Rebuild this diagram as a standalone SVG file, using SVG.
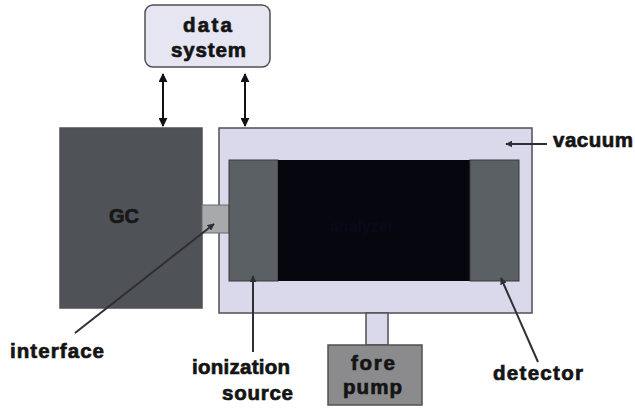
<svg xmlns="http://www.w3.org/2000/svg" width="635" height="411" viewBox="0 0 635 411">
<defs>
<style>
.lbl{font-family:"Liberation Sans",Arial,sans-serif;font-weight:bold;fill:#141414;stroke:#141414;stroke-width:0.7;font-size:20.5px;}
.box{stroke:#505050;stroke-width:1.5;}
.ptr{stroke:#2e2e36;stroke-width:2;fill:none;}
.dbl{stroke:#111;stroke-width:2;fill:none;}
</style>
<marker id="ah" viewBox="0 0 10 10" refX="9" refY="5" markerWidth="4.5" markerHeight="4.5" orient="auto-start-reverse" markerUnits="strokeWidth">
<path d="M0,0 L10,5 L0,10 Z" fill="#111"/>
</marker>
<marker id="ph" viewBox="0 0 10 10" refX="9" refY="5" markerWidth="3.5" markerHeight="3.5" orient="auto" markerUnits="strokeWidth">
<path d="M0,0 L10,5 L0,10 Z" fill="#2e2e36"/>
</marker>
</defs>
<rect width="635" height="411" fill="#ffffff"/>

<g id="data-system">
<rect class="box" x="145" y="5" width="125" height="62" rx="8" fill="#e6e6f2"/>
<text class="lbl" x="207.5" y="32" text-anchor="middle" textLength="49">data</text>
<text class="lbl" x="208.5" y="57" text-anchor="middle" textLength="75">system</text>
</g>

<g id="gc">
<rect class="box" x="60" y="128" width="142" height="180" fill="#4f5357"/>
<text class="lbl" x="124" y="223" style="font-size:20px;fill:#181818;stroke:#181818" text-anchor="middle">GC</text>
</g>

<g id="vacuum">
<rect class="box" x="219" y="128" width="313" height="185" fill="#d9d9eb"/>
</g>

<g id="interface">
<rect x="202" y="205" width="27" height="28" fill="#a7a9ab" stroke="#6a6a6a" stroke-width="1"/>
</g>

<g id="ionization-source">
<rect x="229" y="160" width="49" height="121" fill="#5a6064" stroke="#3a3a3a" stroke-width="1"/>
</g>

<g id="analyzer">
<rect x="278" y="160" width="192" height="121" fill="#06060f"/>
<text x="362" y="232" font-family="Liberation Sans, Arial, sans-serif" font-weight="bold" font-size="16" text-anchor="middle" fill="#09091a">analyzer</text>
</g>

<g id="detector">
<rect x="470" y="160" width="49" height="121" fill="#5a6064" stroke="#3a3a3a" stroke-width="1"/>
</g>

<g id="fore-pump">
<rect x="366" y="313" width="22" height="32" fill="#d9d9eb" stroke="#505050" stroke-width="1.5"/>
<rect class="box" x="328" y="345" width="94" height="60" fill="#8b8b8e"/>
<text class="lbl" x="373" y="370" text-anchor="middle" textLength="44">fore</text>
<text class="lbl" x="372.5" y="394" text-anchor="middle" textLength="59">pump</text>
</g>

<g id="labels">
<text class="lbl" x="10" y="358" textLength="94">interface</text>
<text class="lbl" x="192" y="374" textLength="98">ionization</text>
<text class="lbl" x="222" y="400" textLength="71">source</text>
<text class="lbl" x="493" y="380" textLength="90">detector</text>
<text class="lbl" x="553" y="147" textLength="80">vacuum</text>
</g>

<g id="connectors">
<line class="dbl" x1="163" y1="74" x2="163" y2="126" marker-start="url(#ah)" marker-end="url(#ah)"/>
<line class="dbl" x1="245" y1="74" x2="245" y2="126" marker-start="url(#ah)" marker-end="url(#ah)"/>
<line class="ptr" x1="75" y1="333" x2="214" y2="224" marker-end="url(#ph)"/>
<line class="ptr" x1="253" y1="352" x2="253" y2="276" marker-end="url(#ph)"/>
<line class="ptr" x1="538" y1="362" x2="501" y2="278" marker-end="url(#ph)"/>
<line class="ptr" x1="547" y1="144" x2="506" y2="144" marker-end="url(#ph)"/>
</g>
</svg>
